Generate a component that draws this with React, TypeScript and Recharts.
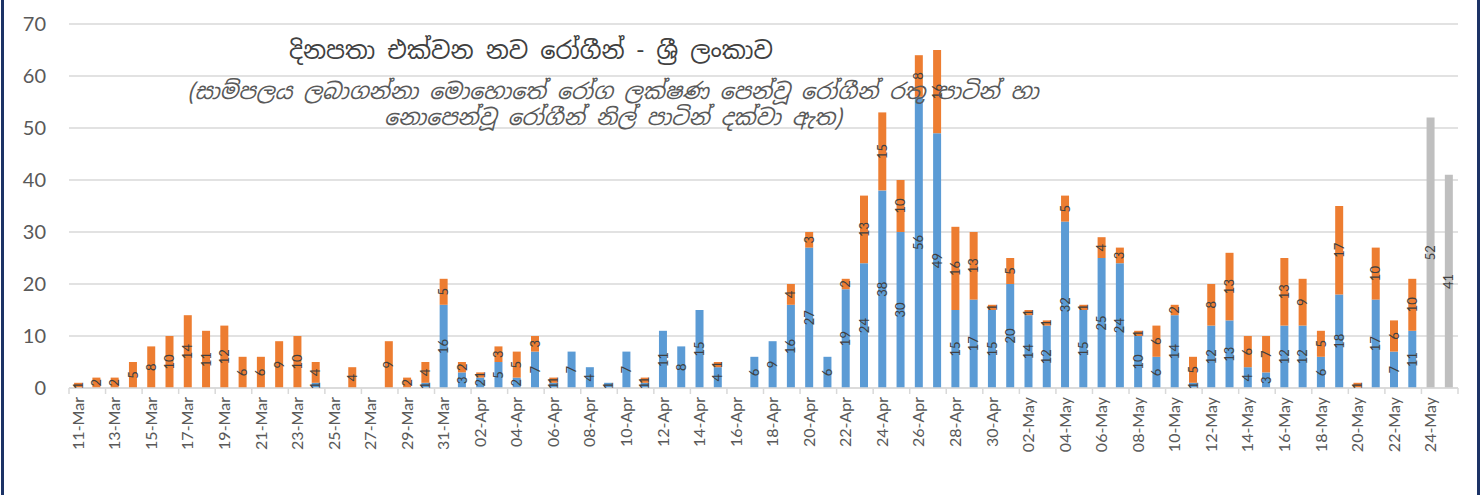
import React from "react"
import { BarChart, Bar, XAxis, YAxis, CartesianGrid, LabelList } from "recharts"

const dates = [
  "11-Mar", "12-Mar", "13-Mar", "14-Mar", "15-Mar", "16-Mar", "17-Mar", "18-Mar", "19-Mar", "20-Mar",
  "21-Mar", "22-Mar", "23-Mar", "24-Mar", "25-Mar", "26-Mar", "27-Mar", "28-Mar", "29-Mar", "30-Mar",
  "31-Mar", "01-Apr", "02-Apr", "03-Apr", "04-Apr", "05-Apr", "06-Apr", "07-Apr", "08-Apr", "09-Apr",
  "10-Apr", "11-Apr", "12-Apr", "13-Apr", "14-Apr", "15-Apr", "16-Apr", "17-Apr", "18-Apr", "19-Apr",
  "20-Apr", "21-Apr", "22-Apr", "23-Apr", "24-Apr", "25-Apr", "26-Apr", "27-Apr", "28-Apr", "29-Apr",
  "30-Apr", "01-May", "02-May", "03-May", "04-May", "05-May", "06-May", "07-May", "08-May", "09-May",
  "10-May", "11-May", "12-May", "13-May", "14-May", "15-May", "16-May", "17-May", "18-May", "19-May",
  "20-May", "21-May", "22-May", "23-May", "24-May", "25-May",
]

// blue: no symptoms when sampled
const noSymptoms: (number | null)[] = [
  null, null, null, null, null, null, null, null, null, null,
  null, null, null, 1, null, null, null, null, null, 1,
  16, 3, 2, 5, 2, 7, 1, 7, 4, 1,
  7, 1, 11, 8, 15, 4, null, 6, 9, 16,
  27, 6, 19, 24, 38, 30, 56, 49, 15, 17,
  15, 20, 14, 12, 32, 15, 25, 24, 10, 6,
  14, 1, 12, 13, 4, 3, 12, 12, 6, 18,
  0, 17, 7, 11, null, null,
]

// orange: with symptoms
const withSymptoms: (number | null)[] = [
  1, 2, 2, 5, 8, 10, 14, 11, 12, 6,
  6, 9, 10, 4, null, 4, null, 9, 2, 4,
  5, 2, 1, 3, 5, 3, 1, null, null, null,
  null, 1, null, null, null, 1, null, null, null, 4,
  3, null, 2, 13, 15, 10, 8, 16, 16, 13,
  1, 5, 1, 1, 5, 1, 4, 3, 1, 6,
  2, 5, 8, 13, 6, 7, 13, 9, 5, 17,
  1, 10, 6, 10, null, null,
]

// grey: not yet split
const unsplit: (number | null)[] = [
  ...Array(74).fill(null), 52, 41,
]

const yTicks = [0, 10, 20, 30, 40, 50, 60, 70]

const data = dates.map((d, i) => ({
  date: d,
  blue: noSymptoms[i],
  orange: withSymptoms[i],
  grey: unsplit[i],
}))

const title = "දිනපතා එක්වන නව රෝගීන් - ශ්‍රී ලංකාව"
const subtitle1 = "(සාම්පලය ලබාගන්නා මොහොතේ රෝග ලක්ෂණ පෙන්වූ රෝගීන් රතු පාටින් හා"
const subtitle2 = "නොපෙන්වූ රෝගීන් නිල් පාටින් දක්වා ඇත)"

const sinhalaFont = "'Noto Sans Sinhala', 'Iskoola Pota', 'Noto Sans', 'DejaVu Sans', sans-serif"
const axisFont = "Lato, 'Open Sans', sans-serif"

function DateTick(props: any) {
  const { x, y, payload } = props
  const half = payload?.offset ?? 9.14
  const last = payload?.value === dates[dates.length - 2]
  return (
    <g transform={`translate(${x},${y})`}>
      <line x1={-half} y1={0} x2={-half} y2={6} stroke="#d9d9d9" strokeWidth={1.5} />
      {last && <line x1={half * 3} y1={0} x2={half * 3} y2={6} stroke="#d9d9d9" strokeWidth={1.5} />}
      <text
        transform="rotate(-90)"
        x={-9}
        y={0}
        dy="0.35em"
        textAnchor="end"
        fill="#595959"
        fontSize={16}
        fontFamily={axisFont}
      >
        {payload.value}
      </text>
    </g>
  )
}

const labelStyle = { fill: "#404040", fontSize: 13, fontFamily: axisFont }

export default function App() {
  return (
    <div style={{ position: "absolute", left: 0, top: 0, width: 1480, height: 495, background: "#fff" }}>
      <BarChart
        width={1480}
        height={495}
        data={data}
        margin={{ top: 24, right: 22, bottom: 27, left: 9 }}
        barCategoryGap="28%"
      >
        <CartesianGrid vertical={false} stroke="#d9d9d9" strokeWidth={1.5} />
        <XAxis
          dataKey="date"
          interval={1}
          height={80}
          tickLine={false}
          tickSize={0}
          tickMargin={0}
          axisLine={{ stroke: "#d9d9d9", strokeWidth: 1.5 }}
          tick={<DateTick />}
        />
        <YAxis
          domain={[0, 70]}
          ticks={yTicks}
          width={60}
          axisLine={false}
          tickLine={false}
          tickSize={0}
          tickMargin={23}
          tick={{ fill: "#595959", fontSize: 20, fontFamily: axisFont }}
        />
        <Bar dataKey="blue" stackId="a" fill="#5b9bd5" isAnimationActive={false}>
          <LabelList dataKey="blue" position="center" angle={-90} style={labelStyle} />
        </Bar>
        <Bar dataKey="orange" stackId="a" fill="#ed7d31" isAnimationActive={false}>
          <LabelList dataKey="orange" position="center" angle={-90} style={labelStyle} />
        </Bar>
        <Bar dataKey="grey" stackId="a" fill="#bfbfbf" isAnimationActive={false}>
          <LabelList dataKey="grey" position="center" angle={-90} style={labelStyle} />
        </Bar>
      </BarChart>

      <div
        style={{
          position: "absolute", left: 231, width: 600, top: 34, textAlign: "center",
          fontFamily: sinhalaFont, fontSize: 24, color: "#404040", whiteSpace: "nowrap",
          lineHeight: "34px",
        }}
      >
        {title}
      </div>
      <div
        style={{
          position: "absolute", left: 113, width: 1000, top: 78, textAlign: "center",
          fontFamily: sinhalaFont, fontSize: 22, fontStyle: "italic", color: "#595959",
          lineHeight: "26px", whiteSpace: "nowrap",
        }}
      >
        <div>{subtitle1}</div>
        <div>{subtitle2}</div>
      </div>

      <div style={{ position: "absolute", left: 1, top: 0, width: 3, height: 495, background: "#1c3366" }} />
      <div style={{ position: "absolute", left: 1477, top: 0, width: 3, height: 495, background: "#1c3366" }} />
    </div>
  )
}
